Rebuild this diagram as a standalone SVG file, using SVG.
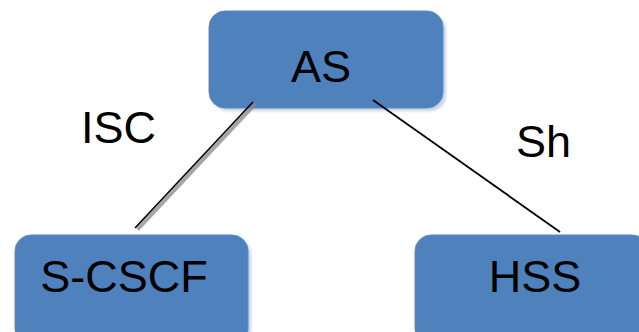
<svg xmlns="http://www.w3.org/2000/svg" width="639" height="332" viewBox="0 0 639 332">
<style>
.box{fill:#4F81BD;stroke:#5A8AC6;stroke-width:1}
.shadow{fill:#8A9AAE;opacity:0.45}
.t{font-family:"Liberation Sans",Arial,sans-serif;font-size:45px;fill:#000}
.mid{text-anchor:middle}
</style>
<defs>
<filter id="blur" x="-10%" y="-10%" width="120%" height="120%"><feGaussianBlur stdDeviation="1.5"/></filter>
</defs>
<g id="AS">
<rect class="shadow" x="212" y="14" width="234" height="97" rx="16" filter="url(#blur)"/>
<rect class="box" x="209" y="11" width="234" height="97" rx="16"/>
<text class="t mid" x="321" y="82">AS</text>
</g>
<g id="S-CSCF">
<rect class="shadow" x="18" y="238" width="233" height="110" rx="16" filter="url(#blur)"/>
<rect class="box" x="15" y="235" width="233" height="110" rx="16"/>
<text class="t mid" x="124" y="292">S-CSCF</text>
</g>
<g id="HSS">
<rect class="shadow" x="418" y="238" width="233" height="110" rx="16" filter="url(#blur)"/>
<rect class="box" x="415" y="235" width="233" height="110" rx="16"/>
<text class="t mid" x="535" y="292">HSS</text>
</g>
<g id="connectors">
<line x1="255.5" y1="103.5" x2="137.5" y2="229.5" stroke="#888" stroke-width="4" stroke-opacity="0.75"/>
<line x1="253" y1="102" x2="135" y2="228" stroke="#000" stroke-width="1.6"/>
<line x1="373" y1="100" x2="560" y2="232" stroke="#000" stroke-width="1.8"/>
</g>
<text class="t" x="81" y="143">ISC</text>
<text class="t" x="516" y="157">Sh</text>
</svg>
